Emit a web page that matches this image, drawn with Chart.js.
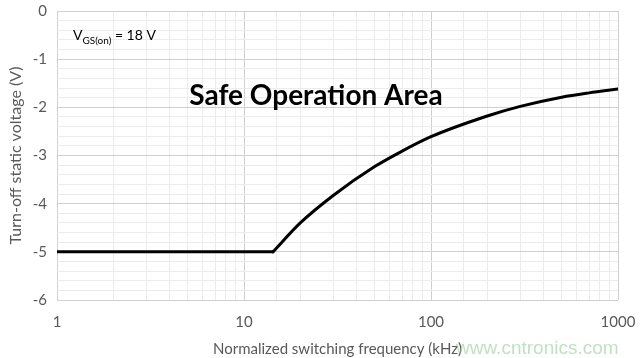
<!DOCTYPE html>
<html><head><meta charset="utf-8">
<script src="https://cdn.jsdelivr.net/npm/chart.js@4"></script>
<style>html,body{margin:0;padding:0;background:#fff}#wrap{width:642px;height:358px}</style>
</head><body><div id="wrap"><canvas id="c" width="642" height="358"></canvas></div>
<script>
const flatFrequencies = [1, 14.3];
const flatVoltages = [-5, -5];
const curveFrequencies = [14.3, 20, 30, 50, 70, 100, 200, 300, 500, 700, 1000];
const curveVoltages = [-5, -4.40, -3.83, -3.23, -2.91, -2.61, -2.18, -1.98, -1.79, -1.70, -1.62];
const xMajorTicks = [1, 10, 100, 1000];
const yMajorTicks = [0, -1, -2, -3, -4, -5, -6];
const FONT = 'Lato, "Open Sans", sans-serif';
const GREY = '#595959';

const textPlugin = {
  id: 'texts',
  afterDraw(chart) {
    const ctx = chart.ctx, a = chart.chartArea;
    ctx.save();
    ctx.textBaseline = 'alphabetic';
    ctx.fillStyle = '#000';
    let x = a.left + 16, y = a.top + 29;
    ctx.font = '14px ' + FONT;
    ctx.fillText('V', x, y);
    x += ctx.measureText('V').width;
    ctx.font = '10px ' + FONT;
    ctx.fillText('GS(on)', x, y + 4);
    x += ctx.measureText('GS(on)').width;
    ctx.font = '14px ' + FONT;
    ctx.fillText(' = 18 V', x, y);
    ctx.font = 'bold 28px ' + FONT;
    ctx.textAlign = 'center';
    ctx.fillText('Safe Operation Area', 316, 105);
    ctx.font = '19px "Liberation Sans", sans-serif';
    ctx.textAlign = 'left';
    ctx.fillStyle = 'rgba(140,200,140,0.55)';
    ctx.fillText('www.cntronics.com', 456, 354);
    ctx.restore();
  }
};

const lineStyle = {borderColor: '#000', borderWidth: 3, pointRadius: 0, fill: false, borderCapStyle: 'round', borderJoinStyle: 'round'};

new Chart(document.getElementById('c'), {
  type: 'line',
  data: {
    datasets: [
      Object.assign({data: flatFrequencies.map((f, i) => ({x: f, y: flatVoltages[i]})), tension: 0}, lineStyle),
      Object.assign({data: curveFrequencies.map((f, i) => ({x: f, y: curveVoltages[i]})), cubicInterpolationMode: 'monotone'}, lineStyle)
    ]
  },
  options: {
    responsive: false,
    animation: false,
    layout: {padding: {top: 11, right: 24, left: 0, bottom: 0}},
    plugins: {legend: {display: false}, tooltip: {enabled: false}},
    scales: {
      x: {
        type: 'logarithmic', min: 1, max: 1000,
        afterFit(s) { s.height = 58; s.paddingLeft = 0; s.paddingRight = 0; },
        grid: {
          color: c => xMajorTicks.includes(c.tick && c.tick.value) ? '#d0d0d0' : '#ececec',
          lineWidth: 1, drawTicks: false
        },
        border: {display: false},
        ticks: {
          autoSkip: false, maxRotation: 0, padding: 13,
          color: GREY, font: {family: FONT, size: 15},
          callback: v => xMajorTicks.includes(v) ? String(v) : ''
        },
        title: {display: true, text: 'Normalized switching frequency (kHz)', color: GREY,
          font: {family: FONT, size: 15}, padding: {top: 2, bottom: 0}}
      },
      y: {
        min: -6, max: 0,
        afterFit(s) { s.width = 57; s.paddingTop = 0; s.paddingBottom = 0; },
        grid: {
          color: c => (c.tick && Math.abs(c.tick.value - Math.round(c.tick.value)) < 1e-6) ? '#d0d0d0' : '#ececec',
          lineWidth: 1, drawTicks: false
        },
        border: {display: false},
        ticks: {
          stepSize: 0.2, autoSkip: false, padding: 10,
          color: GREY, font: {family: FONT, size: 15},
          callback: v => {
            const r = Math.round(v);
            return (Math.abs(v - r) < 1e-6 && yMajorTicks.includes(r)) ? String(r) : '';
          }
        },
        title: {display: true, text: 'Turn-off static voltage (V)', color: GREY,
          font: {family: FONT, size: 16}, padding: {top: 6, bottom: 0}}
      }
    }
  },
  plugins: [textPlugin]
});
</script></body></html>
